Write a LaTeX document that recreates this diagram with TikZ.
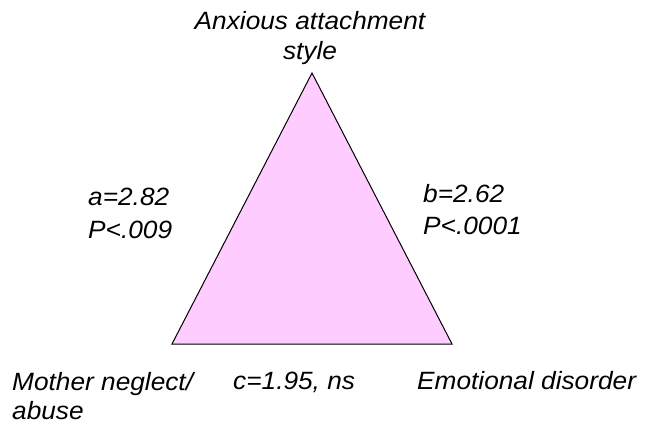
\documentclass[tikz,border=0pt]{standalone}
\usepackage{fontspec}
\setmainfont{Liberation Sans}[FakeStretch=1.05]
\definecolor{trifill}{HTML}{FFCCFF}
\begin{document}
\begin{tikzpicture}[x=1pt,y=-1pt,
  lbl/.style={inner sep=0pt,font=\fontsize{25}{28}\selectfont\itshape},
  tri/.style={draw=black,line width=1pt,fill=trifill,line join=miter}]
\useasboundingbox (0,0) rectangle (645,425);
\coordinate (apex) at (312,73);
\coordinate (left) at (172,344);
\coordinate (right) at (452,344);
\path[tri] (left) -- (apex) -- (right) -- cycle;
\node[lbl,align=center,anchor=north] (anx) at (310,11) {Anxious attachment\\[2pt]style};
\node[lbl,align=left,anchor=north west] (a) at (88,188) {a=2.82\\[5pt]P<.009};
\node[lbl,align=left,anchor=north west] (b) at (423,184) {b=2.62\\[4pt]P<.0001};
\node[lbl,align=left,anchor=north west] (mother) at (12,372) {Mother neglect/\\[1pt]abuse};
\node[lbl,anchor=base west] (c) at (233,389) {c=1.95, ns};
\node[lbl,anchor=base west] (emo) at (417,389) {Emotional disorder};
\end{tikzpicture}
\end{document}
